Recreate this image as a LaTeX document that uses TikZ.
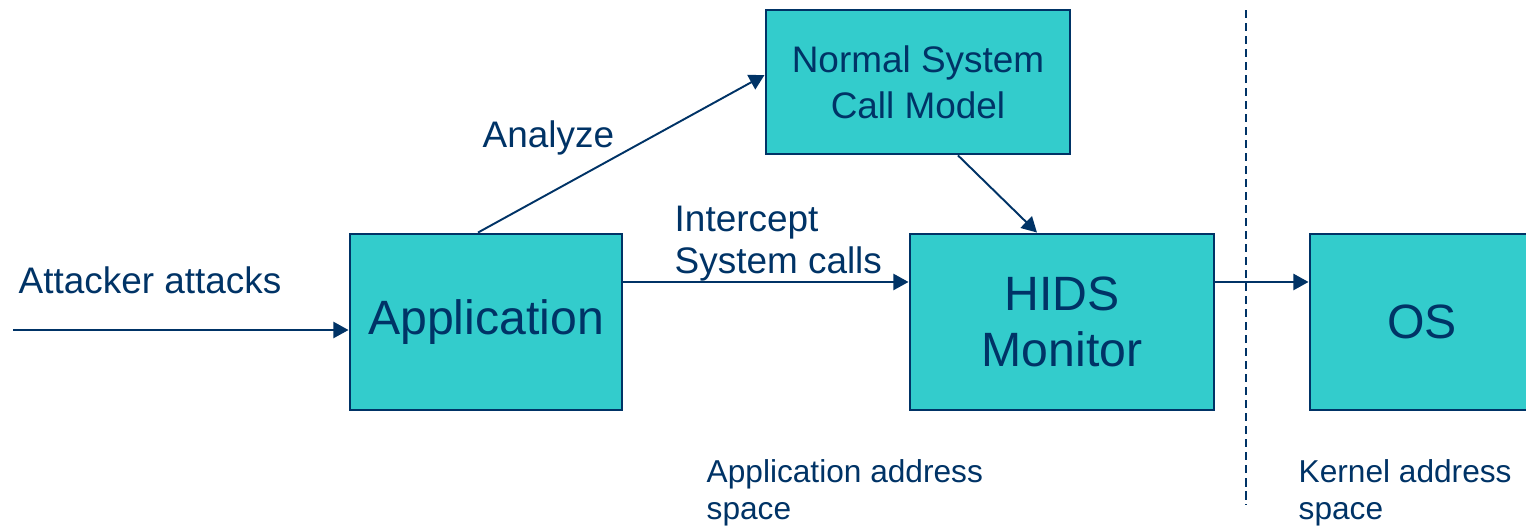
\documentclass[tikz,border=0pt]{standalone}
\usepackage{fontspec}
\setmainfont{Liberation Sans}
\usetikzlibrary{arrows.meta}
\definecolor{boxfill}{RGB}{51,204,204}
\definecolor{navy}{RGB}{0,51,102}

\begin{document}
\begin{tikzpicture}[x=0.01cm, y=-0.01cm,
    box/.style={draw=navy, fill=boxfill, line width=0.8pt, text=navy, inner sep=0pt, align=center},
    big/.style={font=\fontsize{13.7}{15.9}\selectfont},
    mid/.style={font=\fontsize{10.5}{13}\selectfont},
    small/.style={font=\fontsize{9}{10.5}\selectfont},
    lbl/.style={text=navy, inner sep=0pt, align=left, anchor=base west},
    arr/.style={navy, line width=0.55pt, -{Triangle[length=4.3pt,width=4.6pt]}}]

            \useasboundingbox (0,0) rectangle (1526,527);
            \clip (0,0) rectangle (1526,527);

            \node[box, big, minimum width=2.72cm, minimum height=1.76cm] (app) at (486,322) {Application};
            \node[box, mid, minimum width=3.04cm, minimum height=1.44cm] (norm) at (918,82) {Normal System\\Call Model};
            \node[box, big, minimum width=3.04cm, minimum height=1.76cm] (hids) at (1062,322) {HIDS\\Monitor};
            \node[box, big, minimum width=2.24cm, minimum height=1.76cm] (os) at (1422,322) {OS};

            \coordinate (atk) at (13,330);
            \coordinate (sepT) at (1246,10);
            \coordinate (sepB) at (1246,505);

            \draw[arr] (atk) -- ([yshift=-0.08cm]app.west);
            \draw[arr] ([xshift=-0.08cm]app.north) -- ([yshift=0.07cm]norm.west);
            \draw[arr] ([yshift=0.4cm]app.east) -- ([yshift=0.4cm]hids.west);
            \draw[arr] ([xshift=0.4cm]norm.south) -- ([xshift=-0.25cm]hids.north);
            \draw[arr] ([yshift=0.4cm]hids.east) -- ([yshift=0.4cm]os.west);
            \draw[navy, line width=0.55pt, dash pattern=on 2.3pt off 1.4pt] (sepT) -- (sepB);

            % multi-line labels sit on the baseline of their last line
            \node[lbl, mid] (atklbl) at (18,293) {Attacker attacks};
            \node[lbl, mid] (anlbl) at (482,147) {Analyze};
            \node[lbl, font=\fontsize{10.5}{11.7}\selectfont] (intlbl) at (674,273) {Intercept\\System calls};
            \node[lbl, small] (applbl) at (706,519) {Application address\\space};
            \node[lbl, small] (krnlbl) at (1298,519) {Kernel address\\space};

        \end{tikzpicture}
\end{document}
